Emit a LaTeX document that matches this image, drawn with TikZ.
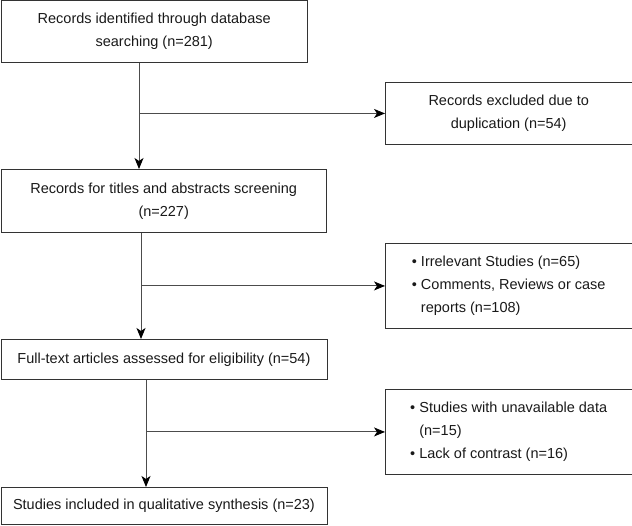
\documentclass[tikz,border=0pt]{standalone}
\usepackage{fontspec}
\setmainfont{Liberation Sans}
\usetikzlibrary{arrows.meta}
\tikzset{
  box/.style={draw=black!80, line width=0.9pt, anchor=north west, inner sep=0pt, align=center, text=black!90, font=\fontsize{14.5}{23}\selectfont},
  flow/.style={draw=black!70, line width=0.9pt, -{Stealth[length=11pt,width=9pt,inset=3pt,black]}}
}
\begin{document}
\begin{tikzpicture}[x=1pt,y=-1pt]
%\draw[help lines] (0,0) grid (632,526);
\useasboundingbox (0,0) rectangle (632,526);
\node[box,minimum width=306.5pt,minimum height=61.5pt] (ident) at (0.5,0.5) {Records identified through database\\searching (n=281)};
\node[box,minimum width=246.5pt,minimum height=62pt] (dup) at (385,82) {Records excluded due to\\duplication (n=54)};
\node[box,minimum width=325.5pt,minimum height=63pt] (screen) at (0.5,169) {Records for titles and abstracts screening\\(n=227)};
\node[box,minimum width=246.5pt,minimum height=85pt,align=left] (irrel) at (385,243) {\textbullet\ Irrelevant Studies (n=65)\\\textbullet\ Comments, Reviews or case\\\hphantom{\textbullet\ }reports (n=108)};
\node[box,minimum width=326pt,minimum height=40pt] (full) at (0.5,339) {Full-text articles assessed for eligibility (n=54)};
\node[box,minimum width=246.5pt,minimum height=85pt,align=left] (unavail) at (385,389) {\textbullet\ Studies with unavailable data\\\hphantom{\textbullet\ }(n=15)\\\textbullet\ Lack of contrast (n=16)};
\node[box,minimum width=326pt,minimum height=37pt] (incl) at (0.5,487) {Studies included in qualitative synthesis (n=23)};
\foreach \s/\t/\x/\e in {ident/screen/139/dup, screen/full/141/irrel, full/incl/146/unavail} {
  \coordinate (m\s) at (\x,0);
  \draw[flow] (\s.south -| m\s) -- (\t.north -| m\s);
  \draw[flow] (\e.west -| m\s) -- (\e.west);
}
\end{tikzpicture}
\end{document}
